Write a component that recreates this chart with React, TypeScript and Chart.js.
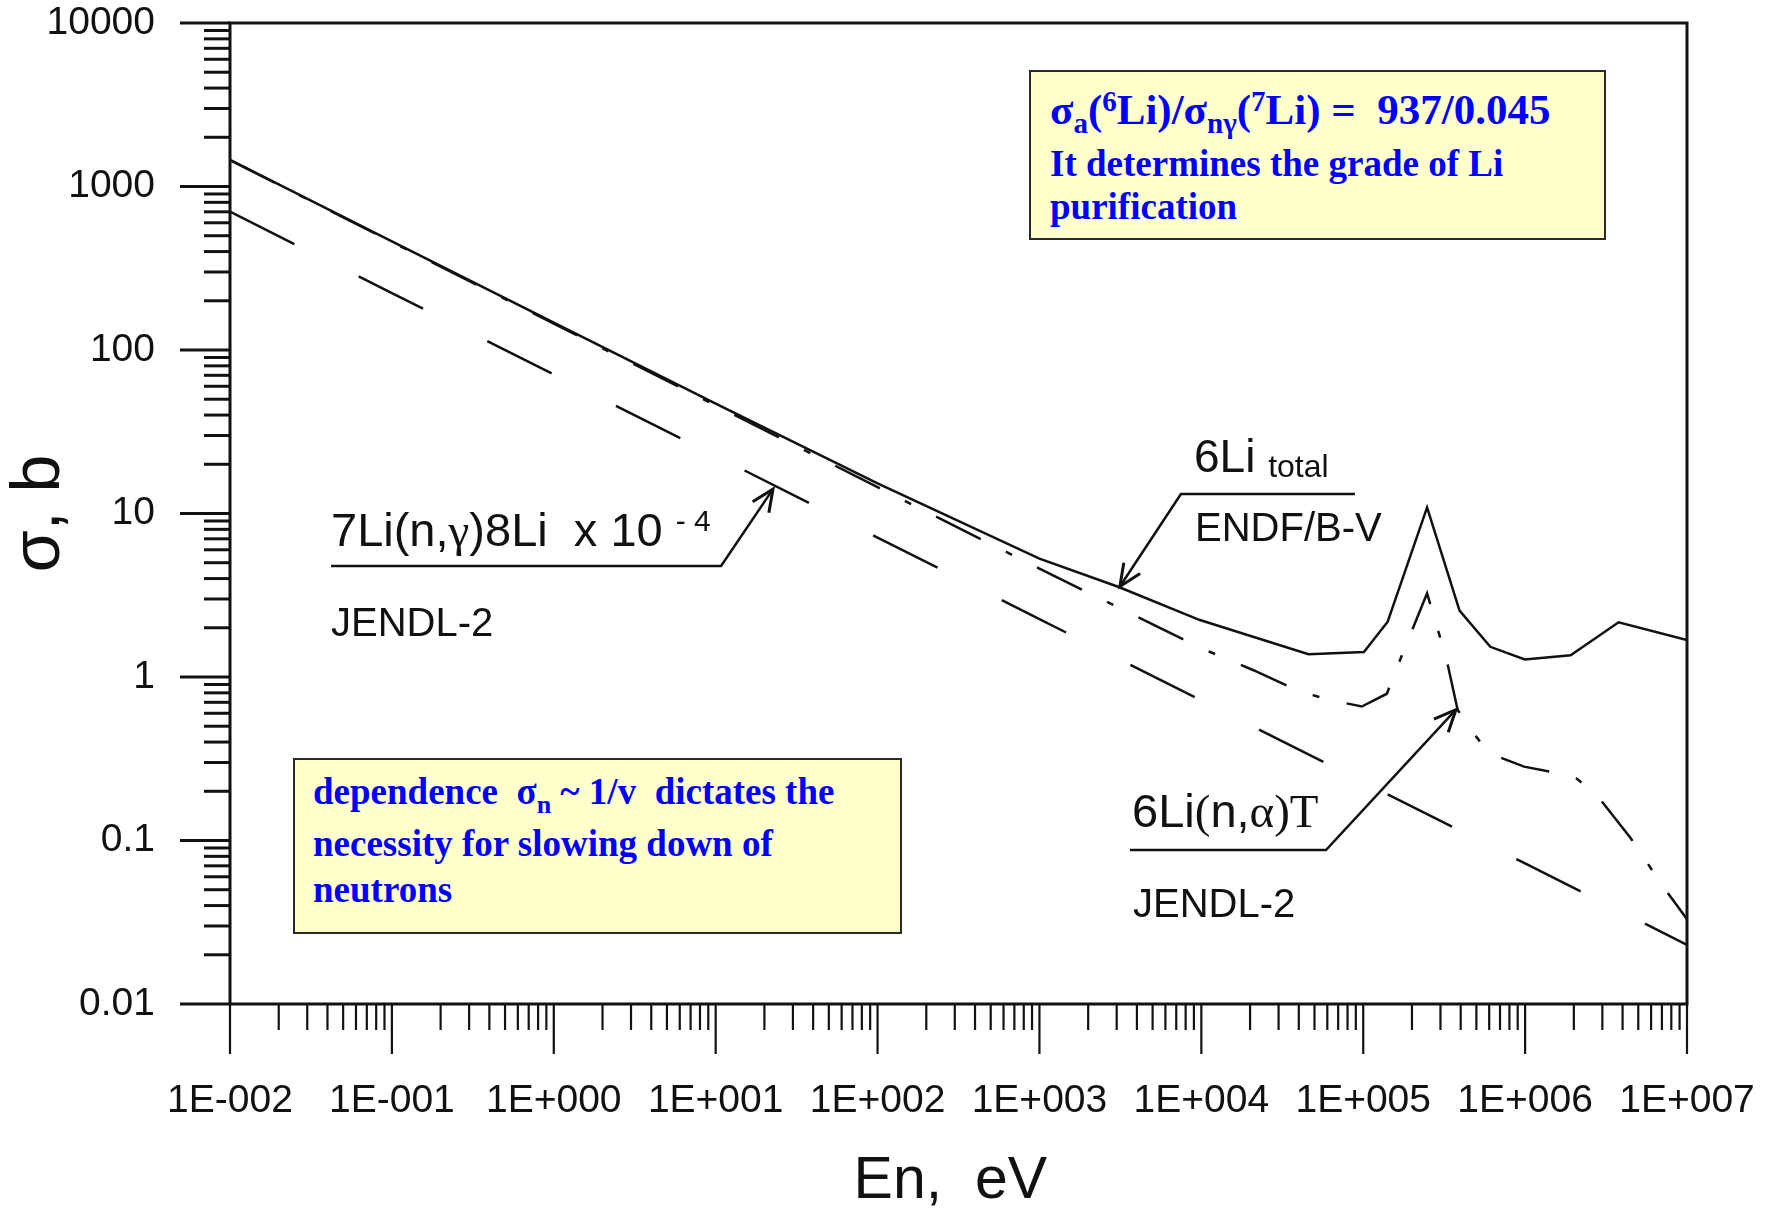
import React, { useEffect, useRef } from 'react';
import { Chart, registerables } from 'chart.js';

Chart.register(...registerables);

// ---------- data ----------
// 6Li total, ENDF/B-V (solid)
const totalEnergy = [0.01, 0.1, 1, 10, 100, 1000, 3090, 9800, 45900, 101000, 141600, 248000, 393600, 609500, 995000, 1910000, 3780000, 10000000];
const totalSigma = [1455, 462, 147, 47, 15.3, 5.3, 3.55, 2.23, 1.38, 1.42, 2.18, 10.9, 2.55, 1.53, 1.28, 1.36, 2.16, 1.68];

// 6Li(n,alpha)T, JENDL-2 (dash-dot)
const alphaEnergy = [0.01, 0.1, 1, 10, 100, 1000, 10000, 21000, 40000, 60000, 98000, 140000, 156000, 248000, 326000, 383000, 463000, 601000, 985000, 1990000, 2770000, 4470000, 7240000, 10000000];
const alphaSigma = [1450, 458, 145, 45.8, 14.5, 4.6, 1.5, 1.1, 0.82, 0.73, 0.66, 0.79, 1.05, 3.25, 1.3, 0.63, 0.474, 0.341, 0.283, 0.248, 0.19, 0.104, 0.051, 0.033];

// 7Li(n,gamma)8Li x 1e-4, JENDL-2 (long dashes)
const gammaEnergy = [0.01, 0.1, 1, 10, 100, 1000, 10000, 100000, 1000000, 10000000];
const gammaSigma = [701, 223, 70.8, 22.5, 7.13, 2.26, 0.718, 0.228, 0.0724, 0.023];

// ---------- axes ----------
const xMajor = [1e-2, 1e-1, 1, 10, 100, 1e3, 1e4, 1e5, 1e6, 1e7];
const xTickLabels = ['1E-002', '1E-001', '1E+000', '1E+001', '1E+002', '1E+003', '1E+004', '1E+005', '1E+006', '1E+007'];
const yMajor = [0.01, 0.1, 1, 10, 100, 1000, 10000];
const yTickLabels = ['0.01', '0.1', '1', '10', '100', '1000', '10000'];
const minorMultipliers = [2, 3, 4, 5, 6, 7, 8, 9];

// ---------- annotation leader lines (data coordinates) ----------
const leaderGammaX = [0.0421, 10.8, 22.6];
const leaderGammaY = [4.77, 4.77, 14.1];
const leaderTotalX = [88900, 7480, 3140];
const leaderTotalY = [13.15, 13.15, 3.58];
const leaderAlphaX = [3620, 58900, 374000];
const leaderAlphaY = [0.0875, 0.0875, 0.632];

const SANS = "'Liberation Sans', Arial, sans-serif";
const SERIF = "'Liberation Serif', 'Times New Roman', serif";
const INK = '#111111';
const BLUE = '#0000ff';

function zip(xs: number[], ys: number[]) {
  return xs.map((x, i) => ({ x, y: ys[i] }));
}

function buildLogTicks(majors: number[]) {
  const ticks: { value: number; major: boolean }[] = [];
  majors.forEach((m, i) => {
    ticks.push({ value: m, major: true });
    if (i < majors.length - 1) {
      minorMultipliers.forEach((k) => ticks.push({ value: m * k, major: false }));
    }
  });
  return ticks;
}

function labelFor(value: number, majors: number[], labels: string[]) {
  const i = majors.findIndex((v) => Math.abs(Math.log10(v) - Math.log10(value)) < 1e-6);
  return i >= 0 ? labels[i] : '';
}

function zeroPadding(scale: any) {
  scale.paddingTop = 0;
  scale.paddingBottom = 0;
  scale.paddingLeft = 0;
  scale.paddingRight = 0;
}

const framePlugin = {
  id: 'frameTicksLeaders',
  afterDraw(chart: any) {
    const { ctx, chartArea } = chart;
    const { left, right, top, bottom } = chartArea;
    const xs = chart.scales.x;
    const ys = chart.scales.y;
    ctx.save();
    ctx.strokeStyle = INK;
    ctx.lineCap = 'butt';

    // x ticks (outside, below)
    ctx.lineWidth = 2.2;
    for (const t of xs.ticks) {
      const px = xs.getPixelForValue(t.value);
      const len = t.major ? 50 : 26;
      ctx.beginPath();
      ctx.moveTo(px, bottom);
      ctx.lineTo(px, bottom + len);
      ctx.stroke();
    }
    // y ticks (outside, left)
    ctx.lineWidth = 3;
    for (const t of ys.ticks) {
      const py = ys.getPixelForValue(t.value);
      const len = t.major ? 50 : 26;
      ctx.beginPath();
      ctx.moveTo(left, py);
      ctx.lineTo(left - len, py);
      ctx.stroke();
    }
    // frame
    ctx.lineWidth = 3;
    ctx.strokeRect(left, top, right - left, bottom - top);

    // leader lines with arrowheads
    const drawLeader = (lx: number[], ly: number[]) => {
      const pts = lx.map((v, i) => [xs.getPixelForValue(v), ys.getPixelForValue(ly[i])]);
      ctx.lineWidth = 2.5;
      ctx.lineJoin = 'miter';
      ctx.beginPath();
      pts.forEach((p, i) => (i === 0 ? ctx.moveTo(p[0], p[1]) : ctx.lineTo(p[0], p[1])));
      ctx.stroke();
      const [tx, ty] = pts[pts.length - 1];
      const [fx, fy] = pts[pts.length - 2];
      const ang = Math.atan2(ty - fy, tx - fx);
      const L = 24;
      const spread = 0.42;
      ctx.lineWidth = 3;
      ctx.beginPath();
      ctx.moveTo(tx - L * Math.cos(ang - spread), ty - L * Math.sin(ang - spread));
      ctx.lineTo(tx, ty);
      ctx.lineTo(tx - L * Math.cos(ang + spread), ty - L * Math.sin(ang + spread));
      ctx.stroke();
    };
    drawLeader(leaderGammaX, leaderGammaY);
    drawLeader(leaderTotalX, leaderTotalY);
    drawLeader(leaderAlphaX, leaderAlphaY);
    ctx.restore();
  },
};

function ChartCanvas() {
  const ref = useRef<HTMLCanvasElement | null>(null);
  useEffect(() => {
    if (!ref.current) return;
    const chart = new Chart(ref.current, {
      type: 'line',
      data: {
        datasets: [
          {
            label: '6Li total ENDF/B-V',
            data: zip(totalEnergy, totalSigma),
            borderColor: INK,
            borderWidth: 2.5,
            pointRadius: 0,
            tension: 0,
            fill: false,
          },
          {
            label: '6Li(n,α)T JENDL-2',
            data: zip(alphaEnergy, alphaSigma),
            borderColor: INK,
            borderWidth: 2.5,
            borderDash: [50, 28, 7, 28],
            pointRadius: 0,
            tension: 0,
            fill: false,
          },
          {
            label: '7Li(n,γ)8Li x 1e-4 JENDL-2',
            data: zip(gammaEnergy, gammaSigma),
            borderColor: INK,
            borderWidth: 2.5,
            borderDash: [72, 72],
            pointRadius: 0,
            tension: 0,
            fill: false,
          },
        ],
      },
      options: {
        responsive: false,
        animation: false,
        devicePixelRatio: 1,
        layout: { autoPadding: false, padding: { top: 23, right: 88, bottom: 0, left: 0 } },
        plugins: { legend: { display: false }, tooltip: { enabled: false } },
        scales: {
          x: {
            type: 'logarithmic',
            min: 0.01,
            max: 1e7,
            grid: { display: false, drawTicks: false, tickLength: 0 },
            border: { display: false },
            afterBuildTicks: (scale: any) => {
              scale.ticks = buildLogTicks(xMajor);
            },
            afterFit: (scale: any) => {
              scale.height = 207;
              zeroPadding(scale);
            },
            ticks: {
              autoSkip: false,
              maxRotation: 0,
              minRotation: 0,
              padding: 78,
              color: INK,
              font: { family: SANS, size: 39, lineHeight: 1 },
              callback: (v: any) => labelFor(Number(v), xMajor, xTickLabels),
            },
            title: {
              display: true,
              text: 'En,  eV ',
              color: INK,
              font: { family: SANS, size: 59, lineHeight: 1 },
              padding: { top: 0, bottom: 0 },
            },
          },
          y: {
            type: 'logarithmic',
            min: 0.01,
            max: 10000,
            grid: { display: false, drawTicks: false, tickLength: 0 },
            border: { display: false },
            afterBuildTicks: (scale: any) => {
              scale.ticks = buildLogTicks(yMajor);
            },
            afterFit: (scale: any) => {
              scale.width = 230;
              zeroPadding(scale);
            },
            ticks: {
              autoSkip: false,
              padding: 75,
              color: INK,
              font: { family: SANS, size: 39, lineHeight: 1 },
              callback: (v: any) => labelFor(Number(v), yMajor, yTickLabels),
            },
            title: {
              display: true,
              text: 'σ, b',
              color: INK,
              font: { family: SANS, size: 68, lineHeight: 1 },
              padding: { top: 6, bottom: 0 },
            },
          },
        },
      },
      plugins: [framePlugin],
    } as any);
    return () => chart.destroy();
  }, []);
  return (
    <canvas
      ref={ref}
      width={1775}
      height={1211}
      style={{ position: 'absolute', left: 0, top: 0, width: 1775, height: 1211 }}
    />
  );
}

// Place a line of text by its baseline
function Line(props: { x: number; base: number; size: number; family: string; bold?: boolean; color: string; children: any }) {
  const k = props.family === SERIF ? 0.8375 : 0.8465;
  return (
    <div
      style={{
        position: 'absolute',
        left: props.x,
        top: props.base - k * props.size,
        fontFamily: props.family,
        fontSize: props.size,
        fontWeight: props.bold ? 'bold' : 'normal',
        lineHeight: 1,
        whiteSpace: 'pre',
        color: props.color,
      }}
    >
      {props.children}
    </div>
  );
}

const sub = (size: number, drop: number) => ({ fontSize: size, verticalAlign: -drop, lineHeight: 1 });
const sup = (size: number, rise: number) => ({ fontSize: size, verticalAlign: rise, lineHeight: 1 });

export default function App() {
  return (
    <div style={{ position: 'absolute', left: 0, top: 0, width: 1775, height: 1211, background: '#ffffff', overflow: 'hidden' }}>
      <ChartCanvas />

      {/* curve labels */}
      <Line x={331} base={546} size={47} family={SANS} color={INK}>
        7Li(n,<span style={{ fontFamily: SERIF }}>γ</span>)8Li  x 10 <span style={sup(30, 15)}>- 4</span>
      </Line>
      <Line x={331} base={636} size={40} family={SANS} color={INK}>
        JENDL-2
      </Line>

      <Line x={1194} base={472} size={46} family={SANS} color={INK}>
        6Li <span style={sub(32, 5)}>total</span>
      </Line>
      <Line x={1195} base={541} size={40} family={SANS} color={INK}>
        ENDF/B-V
      </Line>

      <Line x={1132} base={827} size={47} family={SANS} color={INK}>
        6Li<span style={{ fontFamily: SERIF }}>(</span>n,<span style={{ fontFamily: SERIF }}>α)T</span>
      </Line>
      <Line x={1133} base={917} size={40} family={SANS} color={INK}>
        JENDL-2
      </Line>

      {/* top-right note */}
      <div
        style={{
          position: 'absolute',
          left: 1029,
          top: 70,
          width: 577,
          height: 170,
          boxSizing: 'border-box',
          border: '2.5px solid #2a2a2a',
          background: '#ffffcc',
        }}
      />
      <Line x={1050} base={123} size={43} family={SERIF} bold color={BLUE}>
        σ<span style={sub(29, 9)}>a</span>(<span style={sup(29, 13)}>6</span>Li)/σ<span style={sub(29, 9)}>nγ</span>(<span style={sup(29, 13)}>7</span>Li) =  937/0.045
      </Line>
      <Line x={1050} base={176} size={37} family={SERIF} bold color={BLUE}>
        It determines the grade of Li
      </Line>
      <Line x={1050} base={219} size={37} family={SERIF} bold color={BLUE}>
        purification
      </Line>

      {/* bottom-left note */}
      <div
        style={{
          position: 'absolute',
          left: 293,
          top: 758,
          width: 609,
          height: 176,
          boxSizing: 'border-box',
          border: '2.5px solid #2a2a2a',
          background: '#ffffcc',
        }}
      />
      <Line x={313} base={804} size={37} family={SERIF} bold color={BLUE}>
        dependence  σ<span style={sub(26, 9)}>n</span> ~ 1/v  dictates the
      </Line>
      <Line x={313} base={856} size={37} family={SERIF} bold color={BLUE}>
        necessity for slowing down of
      </Line>
      <Line x={313} base={902} size={37} family={SERIF} bold color={BLUE}>
        neutrons
      </Line>
    </div>
  );
}
